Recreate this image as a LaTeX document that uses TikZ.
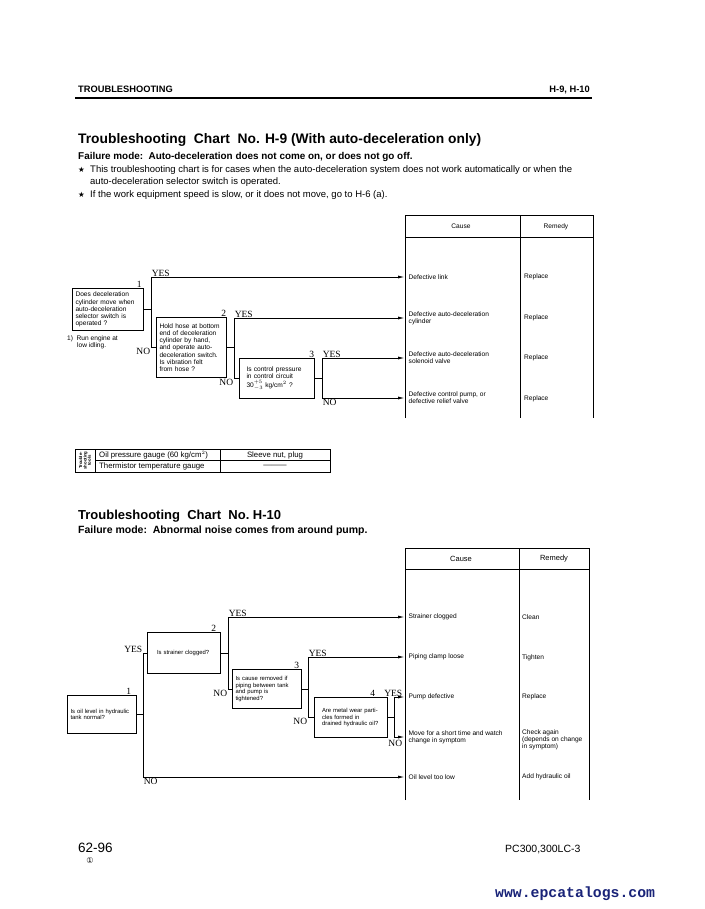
\documentclass[tikz,border=0pt]{standalone}
\usepackage{fontspec}
\setmainfont{Liberation Sans}
\newfontfamily\timesfont{Liberation Serif}
\newfontfamily\urlfont{Liberation Mono}
\newfontfamily\symfont{DejaVu Sans}
\usepackage{xcolor}
\usepackage{tikz}
\usetikzlibrary{arrows.meta, positioning}
\definecolor{urlblue}{RGB}{25,35,120}

\newcommand{\boxfont}{\fontsize{5.9}{6.6}\selectfont}
\newcommand{\chartfont}{\fontsize{6.6}{7.2}\selectfont}
\newcommand{\yesfont}{\timesfont\fontsize{9.5}{10}\selectfont}
\newcommand{\starfont}{\fontsize{9.5}{11}\selectfont}

\tikzset{
    qbox/.style={draw, line width=1pt, inner xsep=3pt, inner ysep=2pt, align=left, anchor=north west, font=\boxfont},
    cause/.style={anchor=west, inner xsep=3.5pt, inner ysep=0pt, align=left, font=\chartfont},
    remedy/.style={anchor=west, inner sep=0pt, align=left, font=\chartfont},
    lbl/.style={inner sep=0.6pt, font=\yesfont},
    line/.style={anchor=base west, inner sep=0pt},
    wire/.style={line width=1pt},
    arr/.style={line width=1pt, -{Latex[length=7pt,width=3pt]}},
    grid/.style={line width=1pt}
}

\begin{document}
\begin{tikzpicture}[x=1pt, y=-1pt]
    \fill[white] (0,0) rectangle (704,909);
    \useasboundingbox (0,0) rectangle (704,909);

    % page head
    \node[line, font=\fontsize{9.3}{10}\selectfont\bfseries] (head) at (78,92.5) {TROUBLESHOOTING};
    \node[anchor=base east, inner sep=0pt, font=\fontsize{9.3}{10}\selectfont\bfseries] (headno) at (590,92.5) {H-9, H-10};
    \draw[line width=1.5pt] (75,98) -- (592,98);

    % chart H-9
    \node[line, font=\fontsize{13.8}{15}\selectfont\bfseries] (t9) at (78,144) {Troubleshooting\ \ Chart\ \ No. H-9 (With auto-deceleration only)};
    \node[line, font=\fontsize{9.9}{12}\selectfont\bfseries] (f9) at (78,160) {Failure mode:\ \ Auto-deceleration does not come on, or does not go off.};
    \node[line, font=\symfont\fontsize{7.5}{8}\selectfont] (star1) at (78,172.5) {★};
    \node[line, font=\starfont] (note1) at (90,172.5) {This troubleshooting chart is for cases when the auto-deceleration system does not work automatically or when the};
    \node[line, font=\starfont] (note1b) at (90,185) {auto-deceleration selector switch is operated.};
    \node[line, font=\symfont\fontsize{7.5}{8}\selectfont] (star2) at (78,197.5) {★};
    \node[line, font=\starfont] (note2) at (90,197.5) {If the work equipment speed is slow, or it does not move, go to H-6 (a).};

    \node[qbox, font=\chartfont, text width=65pt, minimum height=42pt] (h9q1) at (72,288) {Does deceleration\\cylinder move when\\auto-deceleration\\selector switch is\\operated ?};
    \node[anchor=north west, inner sep=0pt, font=\chartfont, align=left] (h9note) at (67,335.5) {1)\ \ Run engine at\\\hspace*{10pt}low idling.};
    \node[qbox, font=\chartfont, text width=64pt, minimum height=60pt] (h9q2) at (156,317) {Hold hose at bottom\\end of deceleration\\cylinder by hand,\\and operate auto-\\deceleration switch.\\Is vibration felt\\from hose ?};
    \node[qbox, font=\chartfont, text width=61pt, minimum height=40pt, inner xsep=7pt] (h9q3) at (239,358) {Is control pressure\\in control circuit\\[1.5pt]30$^{+5}_{-3}$ kg/cm$^2$ ?};

    \draw[grid] (405,418) -- (405,216) -- (593,216) -- (593,418);
    \draw[grid] (405,237) -- (593,237);
    \draw[grid] (520,216) -- (520,418);
    \node[font=\chartfont] (h9cause) at (461,226.5) {Cause};
    \node[font=\chartfont] (h9remedy) at (556,226.5) {Remedy};

    \node[cause] (h9c1) at (405,277) {Defective link};
    \node[cause] (h9c2) at (405,318) {Defective auto-deceleration\\cylinder};
    \node[cause] (h9c3) at (405,358) {Defective auto-deceleration\\solenoid valve};
    \node[cause] (h9c4) at (405,398) {Defective control pump, or\\defective relief valve};
    \node[remedy] (h9r1) at (524,277) {Replace};
    \node[remedy] (h9r2) at (524,318) {Replace};
    \node[remedy] (h9r3) at (524,358) {Replace};
    \node[remedy] (h9r4) at (524,399) {Replace};

    \draw[wire] (h9q1.east) -- ++(7,0) coordinate (h9b1);
    \draw[arr] (h9b1) |- (h9c1.west);
    \draw[wire] (h9b1) |- (h9q2.west);
    \draw[wire] (h9q2.east) -- ++(7,0) coordinate (h9b2);
    \draw[arr] (h9b2) |- (h9c2.west);
    \draw[wire] (h9b2) |- (h9q3.west);
    \draw[wire] (h9q3.east) -- ++(7,0) coordinate (h9b3);
    \draw[arr] (h9b3) |- (h9c3.west);
    \draw[arr] (h9b3) |- (h9c4.west);

    \node[lbl, anchor=south east, xshift=-1.5pt] at (h9q1.north east) {1};
    \node[lbl, anchor=south west] at (h9b1 |- h9c1.west) {YES};
    \node[lbl, anchor=north east] at (h9b1 |- h9q2.west) {NO};
    \node[lbl, anchor=south east] at (h9q2.north east) {2};
    \node[lbl, anchor=south west] at (h9b2 |- h9c2.west) {YES};
    \node[lbl, anchor=north east] at (h9b2 |- h9q3.west) {NO};
    \node[lbl, anchor=south east] at (h9q3.north east) {3};
    \node[lbl, anchor=south west] at (h9b3 |- h9c3.west) {YES};
    \node[lbl, anchor=north west] at (h9b3 |- h9c4.west) {NO};

    % tools
    \draw[grid] (75,449) rectangle (330,472);
    \draw[grid] (95,449) -- (95,472);
    \draw[grid] (220,449) -- (220,472);
    \draw[grid] (95,460.5) -- (330,460.5);
    \node[rotate=90, inner sep=0pt, align=center, font=\fontsize{4.3}{4.4}\selectfont\bfseries] (tools) at (85,460.5) {Trouble-\\shooting\\tools};
    \node[remedy, font=\fontsize{7.8}{8}\selectfont] (tool1) at (99,455) {Oil pressure gauge (60 kg/cm$^2$)};
    \node[remedy, font=\fontsize{7.8}{8}\selectfont] (tool2) at (99,466.5) {Thermistor temperature gauge};
    \node[inner sep=0pt, font=\fontsize{7.8}{8}\selectfont] (part1) at (275,455) {Sleeve nut, plug};
    \node[inner sep=0pt, font=\fontsize{7.8}{8}\selectfont] (part2) at (275,466.5) {———};

    % chart H-10
    \node[line, font=\fontsize{13}{15}\selectfont\bfseries] (t10) at (78,519) {Troubleshooting\ \ Chart\ \ No.\ H-10};
    \node[line, font=\fontsize{10.5}{12}\selectfont\bfseries] (f10) at (78,533) {Failure mode:\ \ Abnormal noise comes from around pump.};

    \node[qbox, text width=63pt, minimum height=38pt] (h10q1) at (67,695) {Is oil level in hydraulic\\tank normal?};
    \node[qbox, text width=64pt, minimum height=41pt, inner xsep=4.5pt] (h10q2) at (147,632) {\hspace*{5pt}Is strainer clogged?};
    \node[qbox, text width=63pt, minimum height=39pt] (h10q3) at (232,669) {Is cause removed if\\piping between tank\\and pump is\\tightened?};
    \node[qbox, text width=64pt, minimum height=40pt, inner xsep=4.5pt] (h10q4) at (314,697) {\hspace*{3pt}Are metal wear parti-\\\hspace*{3pt}cles formed in\\\hspace*{3pt}drained hydraulic oil?};

    \draw[grid] (405,800) -- (405,548) -- (589,548) -- (589,800);
    \draw[grid] (405,569) -- (589,569);
    \draw[grid] (519,548) -- (519,800);
    \node[font=\fontsize{7.5}{8}\selectfont] (h10cause) at (461,558.5) {Cause};
    \node[font=\fontsize{7.5}{8}\selectfont] (h10remedy) at (554,558.5) {Remedy};

    \node[cause] (h10c1) at (405,617) {Strainer clogged};
    \node[cause] (h10c2) at (405,657) {Piping clamp loose};
    \node[cause] (h10c3) at (405,697) {Pump defective};
    \node[cause] (h10c4) at (405,737) {Move for a short time and watch\\change in symptom};
    \node[cause] (h10c5) at (405,777) {Oil level too low};
    \node[remedy] (h10r1) at (522,617) {Clean};
    \node[remedy] (h10r2) at (522,658) {Tighten};
    \node[remedy] (h10r3) at (522,697) {Replace};
    \node[remedy] (h10r4) at (522,740) {Check again\\(depends on change\\in symptom)};
    \node[remedy] (h10r5) at (522,777) {Add hydraulic oil};

    \draw[wire] (h10q1.east) -- ++(6,0) coordinate (h10b1);
    \draw[wire] (h10b1) |- (h10q2.west);
    \draw[arr] (h10b1) |- (h10c5.west);
    \draw[wire] (h10q2.east) -- ++(7,0) coordinate (h10b2);
    \draw[arr] (h10b2) |- (h10c1.west);
    \draw[wire] (h10b2) |- (h10q3.west);
    \draw[wire] (h10q3.east) -- ++(6,0) coordinate (h10b3);
    \draw[arr] (h10b3) |- (h10c2.west);
    \draw[wire] (h10b3) |- (h10q4.west);
    \draw[wire] (h10q4.east) -- ++(6,0) coordinate (h10b4);
    \draw[arr] (h10b4) |- (h10c3.west);
    \draw[arr] (h10b4) |- (h10c4.west);

    \node[lbl, anchor=south east, xshift=-5pt] at (h10q1.north east) {1};
    \node[lbl, anchor=south east] at (h10b1 |- h10q2.west) {YES};
    \node[lbl, anchor=north west] at (h10b1 |- h10c5.west) {NO};
    \node[lbl, anchor=south east, xshift=-4pt] at (h10q2.north east) {2};
    \node[lbl, anchor=south west] at (h10b2 |- h10c1.west) {YES};
    \node[lbl, anchor=north east] at (h10b2 |- h10q3.west) {NO};
    \node[lbl, anchor=south east, xshift=-2pt] at (h10q3.north east) {3};
    \node[lbl, anchor=south west] at (h10b3 |- h10c2.west) {YES};
    \node[lbl, anchor=north east] at (h10b3 |- h10q4.west) {NO};
    \node[lbl, anchor=south east, xshift=-12pt] at (h10q4.north east) {4};
    \node[lbl, anchor=south east, xshift=9pt] at (h10b4 |- h10c3.west) {YES};
    \node[lbl, anchor=north east, xshift=9pt, yshift=-2pt] at (h10b4 |- h10c4.west) {NO};

    % page foot
    \node[line, font=\fontsize{13.5}{15}\selectfont] (pageno) at (78,852) {62-96};
    \node[inner sep=0pt, font=\symfont\fontsize{8}{9}\selectfont] (rev) at (90,861) {①};
    \node[line, font=\fontsize{10.5}{11}\selectfont] (model) at (505,852) {PC300,300LC-3};
    \node[line, text=urlblue, font=\urlfont\fontsize{14.8}{16}\selectfont\bfseries] (site) at (495,897) {www.epcatalogs.com};
\end{tikzpicture}
\end{document}
